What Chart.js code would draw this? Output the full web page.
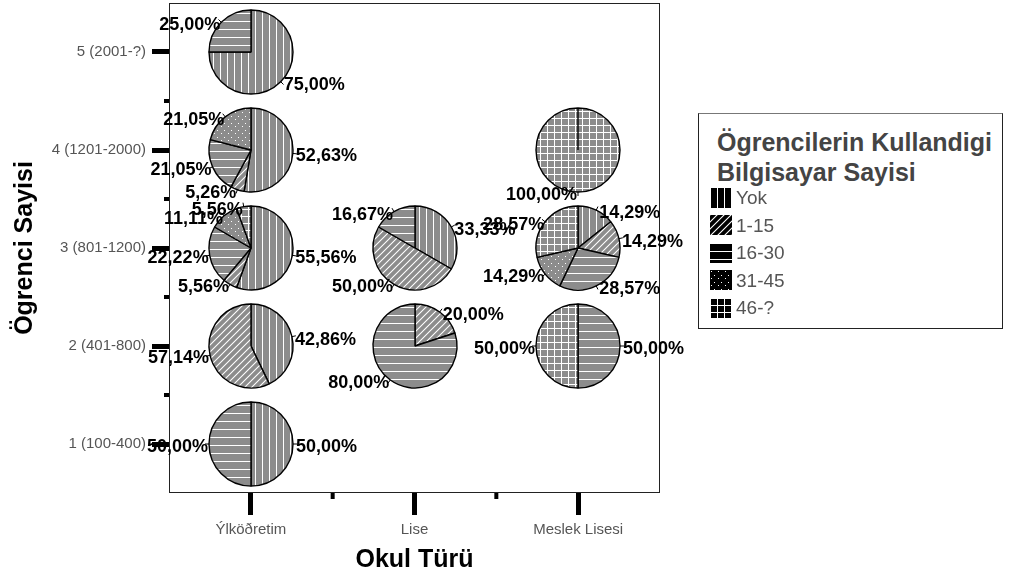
<!DOCTYPE html>
<html>
<head>
<meta charset="utf-8">
<script src="https://cdn.jsdelivr.net/npm/chart.js@4.4.1/dist/chart.umd.min.js"></script>
<style>
html, body { margin: 0; padding: 0; background: #fff; }
#wrap { position: relative; width: 1009px; height: 577px; overflow: hidden; }
#main { position: absolute; left: 0; top: 0; }
.pie { position: absolute; }
#legend { position: absolute; left: 698px; top: 113px; width: 305px; height: 216px; box-sizing: border-box;
  border: 1px solid #222; border-top-color: #777; background: #fff; font-family: "Liberation Sans", Arial, Helvetica, sans-serif; }
#legend .ttl { position: absolute; left: 18px; top: 13px; font-size: 25px; font-weight: bold; line-height: 30px; color: #444; white-space: nowrap; }
#legend .items { position: absolute; left: 11px; top: 70px; }
#legend .row { height: 27.5px; display: flex; align-items: center; }
#legend .row canvas { width: 22px; height: 20px; margin-right: 4px; display: block; }
#legend .row span { font-size: 19px; line-height: 1; color: #555; }
</style>
</head>
<body>
<div id="wrap">
  <canvas id="main" width="1009" height="577"></canvas>
  <div id="legend"></div>
</div>
<script>
// ---------------- data ----------------
const schoolTypes = ['Ýlköðretim', 'Lise', 'Meslek Lisesi'];
const sizeGroups = ['1 (100-400)', '2 (401-800)', '3 (801-1200)', '4 (1201-2000)', '5 (2001-?)'];
const computerCounts = ['Yok', '1-15', '16-30', '31-45', '46-?'];
const legendTitle = ['Ögrencilerin Kullandigi', 'Bilgisayar Sayisi'];

// one entry per pie (cell of the grid)
const cellSchool = ['Ýlköðretim', 'Ýlköðretim', 'Ýlköðretim', 'Ýlköðretim', 'Ýlköðretim',
                    'Lise', 'Lise', 'Meslek Lisesi', 'Meslek Lisesi', 'Meslek Lisesi'];
const cellGroup  = ['1 (100-400)', '2 (401-800)', '3 (801-1200)', '4 (1201-2000)', '5 (2001-?)',
                    '2 (401-800)', '3 (801-1200)', '2 (401-800)', '3 (801-1200)', '4 (1201-2000)'];
const shareYok   = [50.00, 42.86, 55.56, 52.63, 75.00,  0.00, 33.33,  0.00, 14.29,   0.00];
const share1_15  = [ 0.00, 57.14,  5.56,  5.26,  0.00, 20.00, 50.00,  0.00, 14.29,   0.00];
const share16_30 = [50.00,  0.00, 22.22, 21.05, 25.00, 80.00, 16.67, 50.00, 28.57,   0.00];
const share31_45 = [ 0.00,  0.00, 11.11, 21.05,  0.00,  0.00,  0.00,  0.00, 14.29,   0.00];
const share46    = [ 0.00,  0.00,  5.56,  0.00,  0.00,  0.00,  0.00, 50.00, 28.57, 100.00];

// ---------------- styling helpers ----------------
const FONT = '"Liberation Sans", Arial, Helvetica, sans-serif';
Chart.defaults.font.family = FONT;
const PIE_R = 42, PIE_W = 300, PIE_H = 190;
const patternKinds = ['vertical', 'diagonal', 'horizontal', 'dots', 'grid'];

function makeTile(kind, base) {
  const s = kind === 'horizontal' ? 8 : 7;
  const c = document.createElement('canvas');
  c.width = s; c.height = s;
  const g = c.getContext('2d');
  g.fillStyle = base; g.fillRect(0, 0, s, s);
  g.fillStyle = '#fff'; g.strokeStyle = '#fff';
  if (kind === 'vertical') g.fillRect(0, 0, 1, s);
  else if (kind === 'horizontal') g.fillRect(0, 0, s, 1);
  else if (kind === 'grid') { g.fillRect(0, 0, 1, s); g.fillRect(0, 0, s, 1); }
  else if (kind === 'dots') { g.fillRect(1, 1, 1, 1); g.fillRect(4, 5, 1, 1); }
  else if (kind === 'diagonal') {
    g.lineWidth = 1.1;
    g.beginPath();
    g.moveTo(0, s); g.lineTo(s, 0);
    g.moveTo(-1, 1); g.lineTo(1, -1);
    g.moveTo(s - 1, s + 1); g.lineTo(s + 1, s - 1);
    g.stroke();
  }
  return c;
}
function patternFor(ctx, kind, base) { return ctx.createPattern(makeTile(kind, base), 'repeat'); }
function fmt(v) { return v.toFixed(2).replace('.', ',') + '%'; }

// ---------------- main chart (axes / frame / pie positions) ----------------
const frameTicks = {
  id: 'frameTicks',
  afterDraw(chart) {
    const { ctx, chartArea: a, scales: { x, y } } = chart;
    ctx.save();
    ctx.strokeStyle = '#222'; ctx.lineWidth = 1;
    ctx.strokeRect(a.left + 0.5, a.top + 0.5, a.right - a.left - 1, a.bottom - a.top - 1);
    ctx.strokeStyle = '#000'; ctx.lineWidth = 4;
    ctx.beginPath();
    for (let i = 0; i < schoolTypes.length - 1; i++) {
      const px = x.getPixelForValue(i + 0.5);
      ctx.moveTo(px, a.bottom); ctx.lineTo(px, a.bottom + 6);
    }
    for (let i = 0; i < sizeGroups.length - 1; i++) {
      const py = y.getPixelForValue(i + 0.5);
      ctx.moveTo(a.left - 5, py); ctx.lineTo(a.left, py);
    }
    ctx.stroke();
    ctx.restore();
  }
};

const main = new Chart(document.getElementById('main'), {
  type: 'scatter',
  data: {
    datasets: [{
      label: 'cells',
      data: cellSchool.map((s, i) => ({ x: s, y: cellGroup[i] })),
      pointRadius: 0, pointHoverRadius: 0, showLine: false
    }]
  },
  options: {
    responsive: false, animation: false, events: [],
    layout: { padding: { top: 3, right: 349, left: 0, bottom: 0 } },
    plugins: { legend: { display: false }, tooltip: { enabled: false } },
    scales: {
      x: {
        type: 'category', labels: schoolTypes, offset: true, position: 'bottom',
        grid: { display: true, drawOnChartArea: false, drawTicks: true, tickLength: 22, tickWidth: 5, tickColor: '#000', offset: false },
        border: { display: false },
        ticks: { color: '#555', font: { size: 15 }, padding: 6, autoSkip: false, maxRotation: 0 },
        title: { display: true, text: 'Okul Türü', color: '#000', font: { size: 25, weight: 'bold' }, padding: { top: 0, bottom: 2 } },
        afterFit(s) { s.height = 84; s.paddingLeft = 0; s.paddingRight = 0; }
      },
      y: {
        type: 'category', labels: sizeGroups, reverse: true, offset: true, position: 'left',
        grid: { display: true, drawOnChartArea: false, drawTicks: true, tickLength: 17, tickWidth: 5, tickColor: '#000', offset: false },
        border: { display: false },
        ticks: { color: '#555', font: { size: 15 }, padding: 6, autoSkip: false },
        title: { display: true, text: 'Ögrenci Sayisi', color: '#000', font: { size: 25, weight: 'bold' }, padding: { top: 10, bottom: 0 } },
        afterFit(s) { s.width = 169; s.paddingTop = 0; s.paddingBottom = 0; }
      }
    }
  },
  plugins: [frameTicks]
});

// ---------------- pies ----------------
const sliceLabels = {
  id: 'sliceLabels',
  afterDatasetsDraw(chart) {
    const meta = chart.getDatasetMeta(0);
    const vals = chart.data.datasets[0].data;
    const ctx = chart.ctx;
    ctx.save();
    ctx.font = 'bold 18px ' + FONT;
    ctx.fillStyle = '#000'; ctx.strokeStyle = '#000'; ctx.lineWidth = 1;
    ctx.textBaseline = 'middle';
    meta.data.forEach((arc, i) => {
      if (!vals[i]) return;
      const p = arc.getProps(['x', 'y', 'startAngle', 'endAngle', 'outerRadius'], true);
      const mid = (p.startAngle + p.endAngle) / 2;
      const cx = Math.cos(mid), cy = Math.sin(mid);
      const px = p.x + cx * p.outerRadius, py = p.y + cy * p.outerRadius;
      ctx.beginPath();
      ctx.moveTo(px, py); ctx.lineTo(p.x + cx * (p.outerRadius + 4), p.y + cy * (p.outerRadius + 4));
      ctx.stroke();
      const right = cx > 1e-6;
      ctx.textAlign = right ? 'left' : 'right';
      ctx.fillText(fmt(vals[i]), right ? px + 3 : px - 1, py + 3);
    });
    ctx.restore();
  }
};

const wrap = document.getElementById('wrap');
const legendEl = document.getElementById('legend');
const cellMeta = main.getDatasetMeta(0);
cellSchool.forEach((s, i) => {
  const pt = cellMeta.data[i];
  const cv = document.createElement('canvas');
  cv.width = PIE_W; cv.height = PIE_H;
  cv.className = 'pie';
  cv.style.left = (pt.x - PIE_W / 2) + 'px';
  cv.style.top = (pt.y - PIE_H / 2) + 'px';
  cv.style.width = PIE_W + 'px'; cv.style.height = PIE_H + 'px';
  wrap.insertBefore(cv, legendEl);
  const values = [shareYok[i], share1_15[i], share16_30[i], share31_45[i], share46[i]];
  const ctx = cv.getContext('2d');
  new Chart(cv, {
    type: 'pie',
    data: {
      labels: computerCounts,
      datasets: [{
        data: values,
        backgroundColor: patternKinds.map(k => patternFor(ctx, k, '#8c8c8c')),
        borderColor: '#000', borderWidth: 1.4, radius: PIE_R
      }]
    },
    options: {
      responsive: false, animation: false, events: [],
      layout: { padding: 0 },
      plugins: { legend: { display: false }, tooltip: { enabled: false } }
    },
    plugins: [sliceLabels]
  });
});

// ---------------- legend ----------------
(function buildLegend() {
  const t = document.createElement('div');
  t.className = 'ttl';
  legendTitle.forEach((line, k) => {
    if (k) t.appendChild(document.createElement('br'));
    t.appendChild(document.createTextNode(line));
  });
  legendEl.appendChild(t);
  const items = document.createElement('div');
  items.className = 'items';
  computerCounts.forEach((name, k) => {
    const row = document.createElement('div');
    row.className = 'row';
    const sw = document.createElement('canvas');
    sw.width = 22; sw.height = 20;
    const g = sw.getContext('2d');
    g.fillStyle = patternFor(g, patternKinds[k], '#000');
    g.fillRect(0, 0, 22, 20);
    const sp = document.createElement('span');
    sp.textContent = name;
    row.appendChild(sw); row.appendChild(sp);
    items.appendChild(row);
  });
  legendEl.appendChild(items);
})();
</script>
</body>
</html>
